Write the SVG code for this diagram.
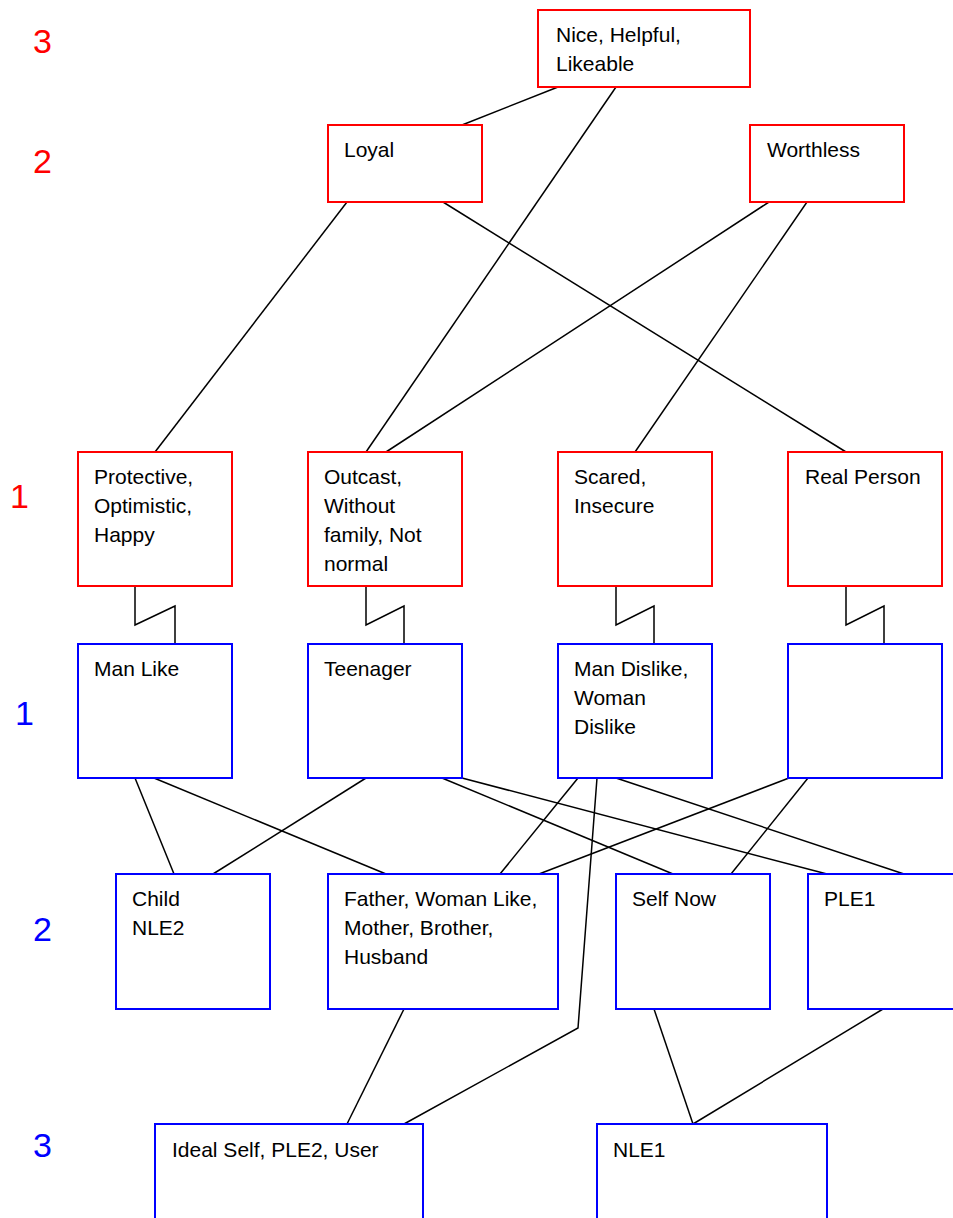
<svg xmlns="http://www.w3.org/2000/svg" width="953" height="1218" viewBox="0 0 953 1218">
<style>
.r{fill:#fff;stroke:#ff0000;stroke-width:2}
.b{fill:#fff;stroke:#0000ff;stroke-width:2}
.t{font-family:"Liberation Sans",Arial,sans-serif;font-size:21px;fill:#000}
.lr{font-family:"Liberation Sans",Arial,sans-serif;font-size:34px;fill:#ff0000}
.lb{font-family:"Liberation Sans",Arial,sans-serif;font-size:34px;fill:#0000ff}
#connectors path{fill:none;stroke:#000;stroke-width:1.5}
</style>
<rect width="953" height="1218" fill="#fff"/>
<g id="levels">
<text class="lr" x="33" y="53">3</text>
<text class="lr" x="33" y="173">2</text>
<text class="lr" x="10" y="508">1</text>
<text class="lb" x="15" y="725">1</text>
<text class="lb" x="33" y="941">2</text>
<text class="lb" x="33" y="1157">3</text>
</g>
<g id="connectors">
<path d="M558,87 L462,125"/>
<path d="M616,87 L366,452"/>
<path d="M347,202 L155,452"/>
<path d="M443,202 L846,452"/>
<path d="M769,202 L386,452"/>
<path d="M807,202 L635,452"/>
<path d="M135,586 V625 L175,606 V644"/>
<path d="M366,586 V625 L404,606 V644"/>
<path d="M616,586 V625 L654,606 V644"/>
<path d="M846,586 V625 L884,606 V644"/>
<path d="M135,778 L174,874"/>
<path d="M154,778 L386,874"/>
<path d="M366,778 L213,874"/>
<path d="M442,778 L673,874"/>
<path d="M462,778 L827,874"/>
<path d="M578,778 L500,874"/>
<path d="M597,778 L578,1028 L404,1124"/>
<path d="M616,778 L904,874"/>
<path d="M789,778 L539,874"/>
<path d="M808,778 L731,874"/>
<path d="M404,1009 L347,1124"/>
<path d="M654,1009 L693,1124"/>
<path d="M883,1009 L693,1124"/>
</g>
<g id="n-nice"><rect class="r" x="538" y="10" width="212" height="77"/><text class="t" x="556" y="42">Nice, Helpful,</text><text class="t" x="556" y="71">Likeable</text></g>
<g id="n-loyal"><rect class="r" x="328" y="125" width="154" height="77"/><text class="t" x="344" y="157">Loyal</text></g>
<g id="n-worthless"><rect class="r" x="750" y="125" width="154" height="77"/><text class="t" x="767" y="157">Worthless</text></g>
<g id="n-protective"><rect class="r" x="78" y="452" width="154" height="134"/><text class="t" x="94" y="484">Protective,</text><text class="t" x="94" y="513">Optimistic,</text><text class="t" x="94" y="542">Happy</text></g>
<g id="n-outcast"><rect class="r" x="308" y="452" width="154" height="134"/><text class="t" x="324" y="484">Outcast,</text><text class="t" x="324" y="513">Without</text><text class="t" x="324" y="542">family, Not</text><text class="t" x="324" y="571">normal</text></g>
<g id="n-scared"><rect class="r" x="558" y="452" width="154" height="134"/><text class="t" x="574" y="484">Scared,</text><text class="t" x="574" y="513">Insecure</text></g>
<g id="n-real"><rect class="r" x="788" y="452" width="154" height="134"/><text class="t" x="805" y="484">Real Person</text></g>
<g id="n-manlike"><rect class="b" x="78" y="644" width="154" height="134"/><text class="t" x="94" y="676">Man Like</text></g>
<g id="n-teenager"><rect class="b" x="308" y="644" width="154" height="134"/><text class="t" x="324" y="676">Teenager</text></g>
<g id="n-mandislike"><rect class="b" x="558" y="644" width="154" height="134"/><text class="t" x="574" y="676">Man Dislike,</text><text class="t" x="574" y="705">Woman</text><text class="t" x="574" y="734">Dislike</text></g>
<g id="n-blank"><rect class="b" x="788" y="644" width="154" height="134"/></g>
<g id="n-child"><rect class="b" x="116" y="874" width="154" height="135"/><text class="t" x="132" y="906">Child</text><text class="t" x="132" y="935">NLE2</text></g>
<g id="n-father"><rect class="b" x="328" y="874" width="230" height="135"/><text class="t" x="344" y="906">Father, Woman Like,</text><text class="t" x="344" y="935">Mother, Brother,</text><text class="t" x="344" y="964">Husband</text></g>
<g id="n-selfnow"><rect class="b" x="616" y="874" width="154" height="135"/><text class="t" x="632" y="906">Self Now</text></g>
<g id="n-ple1"><rect class="b" x="808" y="874" width="154" height="135"/><text class="t" x="824" y="906">PLE1</text></g>
<g id="n-ideal"><rect class="b" x="155" y="1124" width="268" height="134"/><text class="t" x="172" y="1157">Ideal Self, PLE2, User</text></g>
<g id="n-nle1"><rect class="b" x="597" y="1124" width="230" height="134"/><text class="t" x="613" y="1157">NLE1</text></g>
</svg>
